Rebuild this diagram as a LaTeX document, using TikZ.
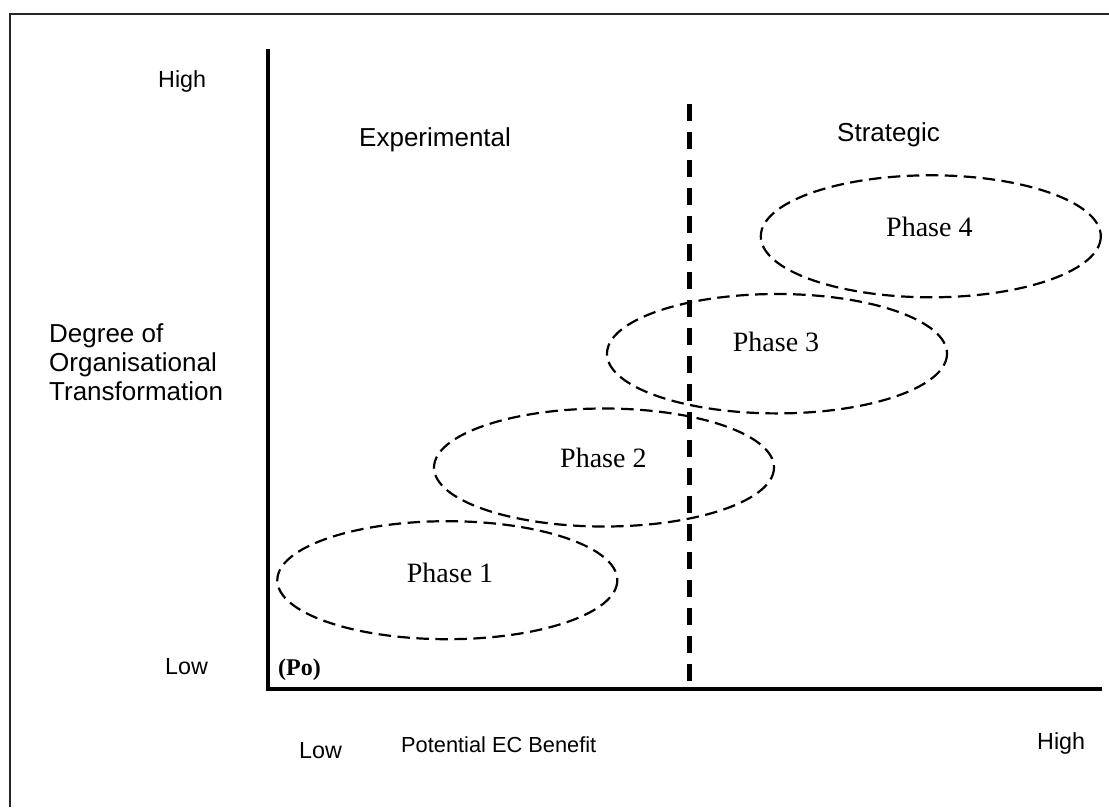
\documentclass[tikz,border=0pt]{standalone}
\usepackage{fontspec}
\setmainfont{Liberation Serif}
\setsansfont{Liberation Sans}
\begin{document}
\begin{tikzpicture}[x=1pt,y=-1pt,
  lbl/.style={inner sep=0pt,anchor=base west,font=\sffamily\fontsize{23.3}{28}\selectfont},
  biglbl/.style={inner sep=0pt,anchor=base west,font=\sffamily\fontsize{26}{29}\selectfont},
  phase/.style={line width=2.2pt,dash pattern=on 12.5pt off 6.5pt},
  phasetxt/.style={inner sep=0pt,anchor=base west,font=\rmfamily\fontsize{28}{32}\selectfont},
  axis/.style={line width=4pt,line join=miter},
  divider/.style={line width=5pt,dash pattern=on 17pt off 11pt}]
\useasboundingbox (0,0) rectangle (1109,807);
% frame
\draw[line width=2pt,black!85] (10,807) -- (10,13.5) -- (1109,13.5);
% axes
\coordinate (ytop) at (268,49);
\coordinate (orig) at (268,689);
\coordinate (xend) at (1102,689);
\draw[axis] (ytop) -- (orig) -- (xend);
% divider
\coordinate (dtop) at (689.5,104);
\coordinate (dbot) at (689.5,682);
\draw[divider] (dtop) -- (dbot);
% ellipses
\draw[phase] (447.3,580.2) ellipse [x radius=170,y radius=59];
\draw[phase] (604,467.5) ellipse [x radius=170,y radius=59];
\draw[phase] (777,353.7) ellipse [x radius=170,y radius=59.7];
\draw[phase] (930.8,236.3) ellipse [x radius=170,y radius=61];
\node[phasetxt] (p1) at (406.7,582.7) {Phase 1};
\node[phasetxt] (p2) at (560,467.3) {Phase 2};
\node[phasetxt] (p3) at (732.7,351.7) {Phase 3};
\node[phasetxt] (p4) at (886,236.7) {Phase 4};
% labels
\node[lbl] (yhigh) at (158,87.7) {High};
\node[lbl] (ylow) at (165,674) {Low};
\node[inner sep=0pt,anchor=base west,font=\rmfamily\bfseries\fontsize{24}{28}\selectfont] (po) at (278,675) {(Po)};
\node[lbl] (xlow) at (299,758) {Low};
\node[lbl] (xhigh) at (1037,749) {High};
\node[inner sep=0pt,anchor=base west,font=\sffamily\fontsize{21.8}{25}\selectfont] (xtitle) at (401,752) {Potential EC Benefit};
\node[biglbl] (d1) at (49,342) {Degree of};
\node[biglbl] (d2) at (49,371) {Organisational};
\node[biglbl] (d3) at (49,400) {Transformation};
\node[biglbl] (exp) at (359,146) {Experimental};
\node[biglbl] (str) at (837,141) {Strategic};
\end{tikzpicture}
\end{document}
